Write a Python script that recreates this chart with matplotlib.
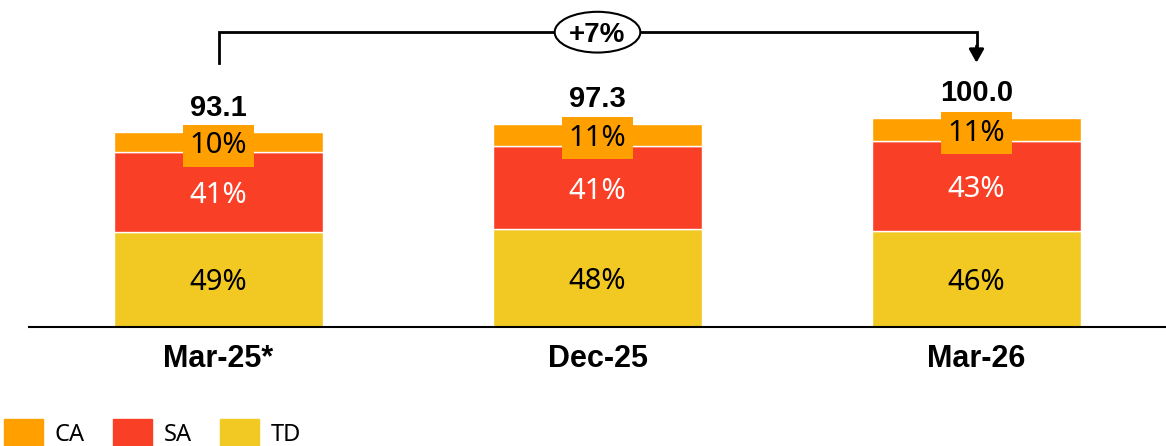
import matplotlib
matplotlib.use("Agg")
import matplotlib.pyplot as plt
from matplotlib.patches import Ellipse, Patch
import numpy as np

# data
periods = ["Mar-25*", "Dec-25", "Mar-26"]
totals = [93.1, 97.3, 100.0]
td_pct = [49, 48, 46]
sa_pct = [41, 41, 43]
ca_pct = [10, 11, 11]
growth_label = "+7%"

C_CA, C_SA, C_TD = "#FFA000", "#F94026", "#F2C822"
BOLD = "Liberation Sans"
REG = "Noto Sans"

fig = plt.figure(figsize=(11.66, 4.46), dpi=100)
ax = fig.add_axes([29 / 1166, 119 / 446, 1137 / 1166, 327 / 446])
ax.set_xlim(-0.5, 2.5)
ax.set_ylim(0, 156.5)

x = np.arange(len(periods))
tot = np.array(totals)
segs = [(td_pct, C_TD, "TD", "black"), (sa_pct, C_SA, "SA", "white"), (ca_pct, C_CA, "CA", "black")]
bottom = np.zeros(len(x))
for pct, col, name, tcol in segs:
    h = tot * np.array(pct) / 100
    ax.bar(x, h, bottom=bottom, width=0.552, color=col, edgecolor="white", linewidth=1, zorder=2)
    for xi, b, hi, p in zip(x, bottom, h, pct):
        kw = {}
        if name == "CA":
            kw["bbox"] = dict(boxstyle="square,pad=0.22", fc=C_CA, ec="none")
        ax.text(xi, b + hi / 2, f"{p}%", ha="center", va="center_baseline", color=tcol,
                fontsize=21, family=REG, zorder=4, **kw)
    bottom = bottom + h

# totals above bars
for xi, t in zip(x, tot):
    ax.annotate(f"{t:.1f}", (xi, t), xytext=(0, 12), textcoords="offset points",
                ha="center", va="baseline", fontsize=21, fontweight="bold", family=BOLD)

# growth bracket
y_top = 141.1
y_end = 126.5
ax.plot([x[0], x[0], x[-1], x[-1]], [y_end, y_top, y_top, y_end + 7], color="black", lw=2, zorder=3,
        solid_joinstyle="miter")
ax.annotate("", xy=(x[-1], y_end), xytext=(x[-1], y_end + 8),
            arrowprops=dict(arrowstyle="-|>,head_length=0.8,head_width=0.45", color="black", lw=2,
                            shrinkA=0, shrinkB=0), zorder=3)
ax.add_patch(Ellipse((x[1], y_top), 0.226, 19.5, fc="white", ec="black", lw=1.5, zorder=5))
ax.text(x[1], y_top, growth_label, ha="center", va="center_baseline", fontsize=20, fontweight="bold",
        family=BOLD, zorder=6)

# axes styling
for s in ["left", "right", "top"]:
    ax.spines[s].set_visible(False)
ax.spines["bottom"].set_linewidth(1.5)
ax.set_yticks([])
ax.set_xticks(x)
ax.set_xticklabels(periods, fontsize=22, fontweight="bold", family=BOLD)
ax.tick_params(axis="x", length=0, pad=12)

handles = [Patch(color=C_CA, label="CA"), Patch(color=C_SA, label="SA"), Patch(color=C_TD, label="TD")]
fig.legend(handles=handles, loc="upper left", bbox_to_anchor=(4 / 1166, 1 - 419 / 446), ncol=3,
           frameon=False, borderpad=0, borderaxespad=0, handlelength=1.65, handleheight=1.45,
           handletextpad=0.5, columnspacing=1.2, prop={"family": REG, "size": 17})

fig.savefig("out.png", dpi=100)
